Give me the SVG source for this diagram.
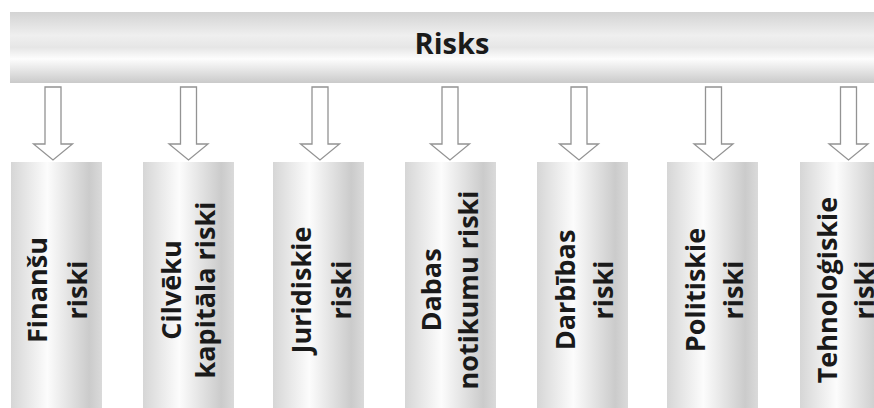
<svg xmlns="http://www.w3.org/2000/svg" width="874" height="408" viewBox="0 0 874 408">
  <defs>
    <linearGradient id="barGrad" x1="0" y1="0" x2="0" y2="1">
      <stop offset="0" stop-color="#d3d3d3"/>
      <stop offset="0.33" stop-color="#efefef"/>
      <stop offset="0.5" stop-color="#e6e6e6"/>
      <stop offset="0.66" stop-color="#fdfdfd"/>
      <stop offset="1" stop-color="#cacaca"/>
    </linearGradient>
    <linearGradient id="colGrad" x1="0" y1="0" x2="1" y2="0">
      <stop offset="0" stop-color="#d6d6d6"/>
      <stop offset="0.4" stop-color="#fcfcfc"/>
      <stop offset="0.86" stop-color="#cbcbcb"/>
      <stop offset="1" stop-color="#dadada"/>
    </linearGradient>
    <path id="arrow" d="M -8 0 L 8 0 L 8 57 L 19.5 57 L 0 73 L -19.5 57 L -8 57 Z"/>
  </defs>
  <style>
    .col { fill: url(#colGrad); }
    .lbl { font-family: "Open Sans", "DejaVu Sans", sans-serif; font-weight: bold; font-size: 27px; fill: #1a1a1a; text-anchor: middle; }
    .title { font-family: "Open Sans", "DejaVu Sans", sans-serif; font-weight: bold; font-size: 29px; fill: #1a1a1a; text-anchor: middle; }
    .arr { fill: #ffffff; stroke: #939393; stroke-width: 1.3; stroke-linejoin: miter; }
  </style>
  <rect width="874" height="408" fill="#ffffff"/>

  <g id="risks">
    <rect x="10" y="12" width="880" height="71" fill="url(#barGrad)"/>
    <text class="title" x="452" y="54">Risks</text>
  </g>

  <g id="connectors">
    <use href="#arrow" class="arr" transform="translate(53,87)"/>
    <use href="#arrow" class="arr" transform="translate(188.5,87)"/>
    <use href="#arrow" class="arr" transform="translate(320,87)"/>
    <use href="#arrow" class="arr" transform="translate(450,87)"/>
    <use href="#arrow" class="arr" transform="translate(579,87)"/>
    <use href="#arrow" class="arr" transform="translate(713.5,87)"/>
    <use href="#arrow" class="arr" transform="translate(848.5,87)"/>
  </g>

  <g id="finansu">
    <rect class="col" x="11" y="162" width="91" height="246"/>
    <text class="lbl" transform="translate(47,290) rotate(-90)">Finanšu</text>
    <text class="lbl" transform="translate(87,290) rotate(-90)">riski</text>
  </g>
  <g id="cilveku">
    <rect class="col" x="143" y="162" width="91" height="246"/>
    <text class="lbl" transform="translate(181,290) rotate(-90)">Cilvēku</text>
    <text class="lbl" transform="translate(215,290) rotate(-90)">kapitāla riski</text>
  </g>
  <g id="juridiskie">
    <rect class="col" x="273" y="162" width="91" height="246"/>
    <text class="lbl" transform="translate(311,290) rotate(-90)">Juridiskie</text>
    <text class="lbl" transform="translate(351,290) rotate(-90)">riski</text>
  </g>
  <g id="dabas">
    <rect class="col" x="405" y="162" width="91" height="246"/>
    <text class="lbl" transform="translate(441,290) rotate(-90)">Dabas</text>
    <text class="lbl" transform="translate(478,290) rotate(-90)">notikumu riski</text>
  </g>
  <g id="darbibas">
    <rect class="col" x="537" y="162" width="91" height="246"/>
    <text class="lbl" transform="translate(575,290) rotate(-90)">Darbības</text>
    <text class="lbl" transform="translate(613,290) rotate(-90)">riski</text>
  </g>
  <g id="politiskie">
    <rect class="col" x="667" y="162" width="91" height="246"/>
    <text class="lbl" transform="translate(705,290) rotate(-90)">Politiskie</text>
    <text class="lbl" transform="translate(743,290) rotate(-90)">riski</text>
  </g>
  <g id="tehnologiskie">
    <rect class="col" x="800" y="162" width="91" height="246"/>
    <text class="lbl" transform="translate(837,290) rotate(-90)">Tehnoloģiskie</text>
    <text class="lbl" transform="translate(874,290) rotate(-90)">riski</text>
  </g>
</svg>
